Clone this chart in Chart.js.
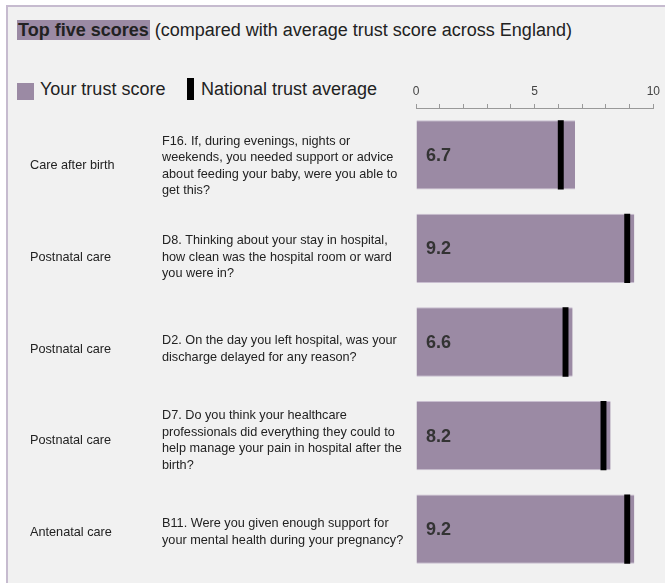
<!DOCTYPE html>
<html>
<head>
<meta charset="utf-8">
<script src="https://cdn.jsdelivr.net/npm/chart.js@4.4.1/dist/chart.umd.min.js"></script>
<style>
  html, body { margin: 0; padding: 0; background: #fff; }
  body { width: 665px; height: 583px; position: relative; overflow: hidden; font-family: 'Liberation Sans', Arial, sans-serif; }
  #box { position: absolute; left: 6px; top: 5px; width: 700px; height: 620px; background: #f1f1f1;
         border-left: 2px solid #c6bbcf; border-top: 2px solid #c6bbcf; }
  #title { position: absolute; left: 17px; top: 18px; font-size: 18px; line-height: 24px; color: #222; white-space: nowrap; }
  #title b { background: #9b8aa4; padding: 0 1px; }
  .leg { position: absolute; top: 77px; font-size: 18px; line-height: 24px; color: #222; white-space: nowrap; }
  .sw { position: absolute; }
  #chartWrap { position: absolute; left: 0; top: 0; width: 665px; height: 583px; }
</style>
</head>
<body>
<div id="box"></div>
<div id="title"><b>Top five scores</b> (compared with average trust score across England)</div>
<div class="sw" style="left:17px;top:83px;width:17px;height:17px;background:#9b8aa4"></div>
<div class="leg" style="left:40px">Your trust score</div>
<div class="sw" style="left:187px;top:78px;width:7px;height:22px;background:#000"></div>
<div class="leg" style="left:201px">National trust average</div>
<div id="chartWrap"><canvas id="c"></canvas></div>
<script>
// data
const sections = ['Care after birth', 'Postnatal care', 'Postnatal care', 'Postnatal care', 'Antenatal care']
const questions = [
    ['F16. If, during evenings, nights or', 'weekends, you needed support or advice', 'about feeding your baby, were you able to', 'get this?'],
    ['D8. Thinking about your stay in hospital,', 'how clean was the hospital room or ward', 'you were in?'],
    ['D2. On the day you left hospital, was your', 'discharge delayed for any reason?'],
    ['D7. Do you think your healthcare', 'professionals did everything they could to', 'help manage your pain in hospital after the', 'birth?'],
    ['B11. Were you given enough support for', 'your mental health during your pregnancy?']
]
const trustScores = [6.7, 9.2, 6.6, 8.2, 9.2]
const nationalAverages = [6.1, 8.9, 6.3, 7.9, 8.9]
const axisTicks = [0, 5, 10]

const PURPLE = '#9b8aa4'
const MARK_HALF = 0.125   // half width of the black national marker, in score units

const rowText = {
    id: 'rowText',
    afterDatasetsDraw(chart) {
        const ctx = chart.ctx
        const y = chart.scales.y
        const x = chart.scales.x
        ctx.save()
        ctx.textBaseline = 'middle'
        sections.forEach((s, i) => {
            // text rows sit a little tighter than the bars in the original
            const cy = y.getPixelForValue(i) + 11 - 2 * i
            ctx.fillStyle = '#222'
            ctx.font = '12.7px "Liberation Sans", Arial, sans-serif'
            ctx.textAlign = 'left'
            ctx.fillText(s, 30, cy)
            const lines = questions[i]
            const lh = 16.5
            lines.forEach((l, k) => {
                ctx.fillText(l, 162, cy + (k - (lines.length - 1) / 2) * lh)
            })
            // value label inside the bar
            ctx.font = 'bold 18px "Liberation Sans", Arial, sans-serif'
            ctx.fillStyle = '#333'
            ctx.fillText(trustScores[i].toFixed(1), x.getPixelForValue(0) + 10, y.getPixelForValue(i) + 1)
        })
        ctx.restore()
    }
}

new Chart(document.getElementById('c'), {
    type: 'bar',
    data: {
        labels: sections.map((s, i) => i),
        datasets: [{
            label: 'National trust average',
            data: nationalAverages.map(v => [v - MARK_HALF, v + MARK_HALF]),
            backgroundColor: '#000',
            grouped: false,
            order: 0,
            categoryPercentage: 0.74,
            barPercentage: 1
        }, {
            label: 'Your trust score',
            data: trustScores,
            backgroundColor: PURPLE,
            borderColor: '#c9bed0',
            borderWidth: { top: 1, bottom: 1, left: 0, right: 0 },
            borderSkipped: false,
            grouped: false,
            order: 1,
            categoryPercentage: 0.74,
            barPercentage: 1
        }]
    },
    options: {
        indexAxis: 'y',
        responsive: true,
        maintainAspectRatio: false,
        animation: false,
        layout: { padding: { left: 416, right: 9, top: 78, bottom: 7 } },
        plugins: { legend: { display: false }, tooltip: { enabled: false } },
        scales: {
            x: {
                position: 'top',
                min: 0,
                max: 10,
                afterFit: s => { s.height = 30 },
                ticks: {
                    stepSize: 1,
                    autoSkip: false,
                    maxRotation: 0,
                    padding: 5,
                    color: '#444',
                    font: { family: '"Liberation Sans Narrow", "Liberation Sans", Arial', size: 12 },
                    callback: v => axisTicks.includes(v) ? String(v) : ''
                },
                grid: { drawOnChartArea: false, drawTicks: true, tickLength: 4, color: '#999' },
                border: { display: true, color: '#999', width: 1 }
            },
            y: { display: false }
        }
    },
    plugins: [rowText]
})
</script>
</body>
</html>
